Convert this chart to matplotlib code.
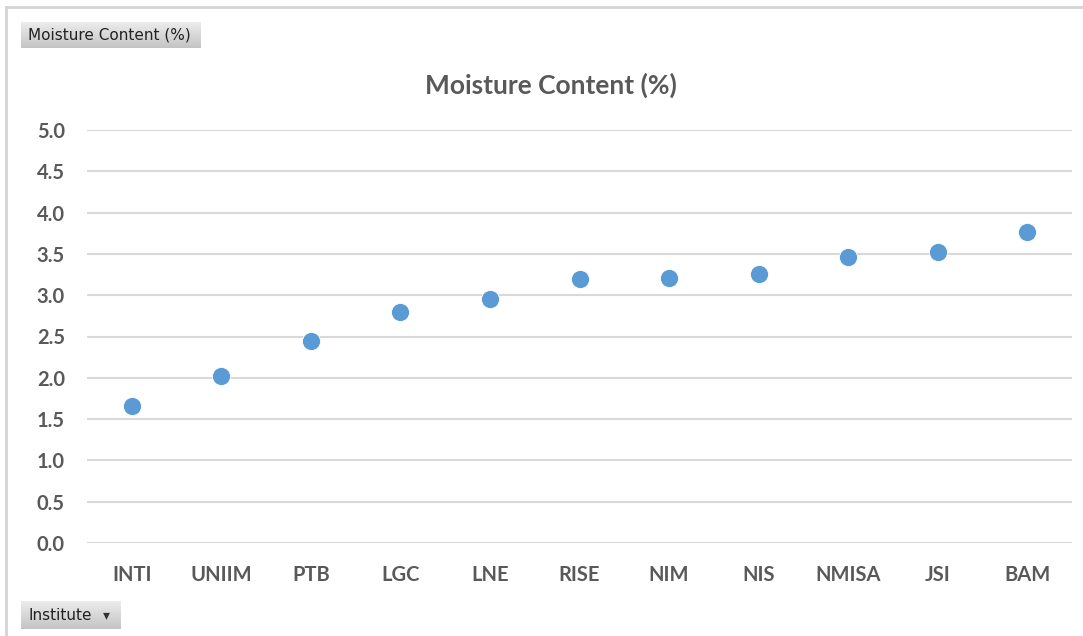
import matplotlib.pyplot as plt
from matplotlib.patches import Rectangle
import matplotlib.colors as mcolors
import numpy as np

institutes = ["INTI", "UNIIM", "PTB", "LGC", "LNE", "RISE", "NIM", "NIS", "NMISA", "JSI", "BAM"]
moisture = [1.66, 2.02, 2.45, 2.80, 2.95, 3.20, 3.21, 3.26, 3.46, 3.52, 3.77]
y_ticks = [0.0, 0.5, 1.0, 1.5, 2.0, 2.5, 3.0, 3.5, 4.0, 4.5, 5.0]

W, H = 1083, 636
fig = plt.figure(figsize=(W / 100, H / 100), dpi=100)

grey = "#595959"
font = "Lato"


def px(x, y):
    # pixel coords (from top-left) -> figure fraction
    return x / W, 1 - y / H


# chart border (runs off right / bottom edge)
x0, y0 = px(6, 7)
fig.patches.append(Rectangle((x0, -0.1), 1.2, y0 + 0.1, transform=fig.transFigure,
                             fill=False, edgecolor="#d4d4d4", linewidth=2))

# cut-off caption above the chart (only descenders show)
fig.text(-0.008, 1.0 + 6 / H, "Figure 3: Moisture Content by Laboratory, reported by",
         fontsize=20, fontweight="bold", family="DejaVu Sans", color="black",
         va="baseline", ha="left")


def button(x, y, w, h, label):
    bx, by = px(x, y + h)
    grad = np.linspace(0, 1, 50).reshape(-1, 1)
    cmap = mcolors.LinearSegmentedColormap.from_list("b", ["#c4c4c4", "#ececec"])
    bax = fig.add_axes([bx, by, w / W, h / H])
    bax.imshow(grad, aspect="auto", cmap=cmap, origin="lower", extent=[0, 1, 0, 1])
    bax.set_xlim(0, 1)
    bax.set_ylim(0, 1)
    bax.set_axis_off()
    bax.text(7 / w, 0.5, label, fontsize=11, family="DejaVu Sans", color="#222222",
             va="center", ha="left", transform=bax.transAxes)
    return bax


button(21, 22, 180, 26, "Moisture Content (%)")
ib = button(21, 601, 100, 28, "Institute")
ib.text(0.85, 0.48, "▾", fontsize=10, color="#333333", ha="center", va="center",
        transform=ib.transAxes)

# main plot area
l, t = px(87, 130)
r, b = px(1072, 543)
ax = fig.add_axes([l, b, r - l, t - b])

x = np.arange(len(institutes))
ax.scatter(x, moisture, s=170, color="#5b9bd5", edgecolors="white", linewidths=0.6, zorder=3)

ax.set_xlim(-0.5, len(institutes) - 0.5)
ax.set_ylim(0, 5)
ax.set_yticks(y_ticks)
ax.set_yticklabels([f"{v:.1f}" for v in y_ticks])
ax.set_xticks(x)
ax.set_xticklabels(institutes)

ax.grid(axis="y", color="#d9d9d9", linewidth=1.5)
ax.set_axisbelow(True)
for s in ax.spines.values():
    s.set_visible(False)
ax.tick_params(length=0)
ax.tick_params(axis="y", pad=16)
ax.tick_params(axis="x", pad=16)
for lab in ax.get_xticklabels() + ax.get_yticklabels():
    lab.set_fontfamily(font)
    lab.set_fontweight("bold")
    lab.set_fontsize(14.5)
    lab.set_color(grey)

tx, ty = px(551, 85)
fig.text(tx, ty, "Moisture Content (%)", fontsize=19, fontweight="bold", family=font,
         color=grey, ha="center", va="center")

fig.savefig("out.png", dpi=100)
